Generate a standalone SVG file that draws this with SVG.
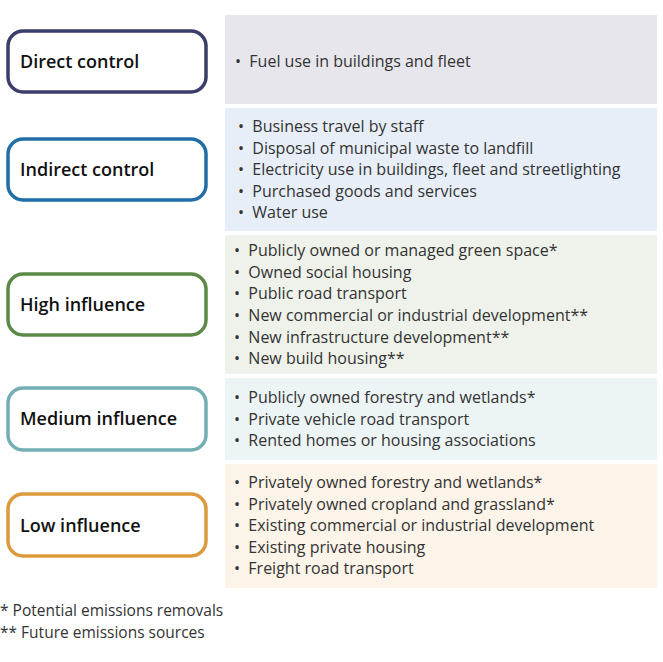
<svg xmlns="http://www.w3.org/2000/svg" width="663" height="662" viewBox="0 0 663 662">
<style>
.box{fill:#fff;stroke-width:3.5}
.lbl{font-family:"Open Sans","Noto Sans",sans-serif;font-size:18px;font-weight:600;fill:#111}
.it{font-family:"Open Sans","Noto Sans",sans-serif;font-size:16px;fill:#333}
.note{font-family:"Open Sans","Noto Sans",sans-serif;font-size:15.5px;fill:#333}
</style>
<rect width="663" height="662" fill="#fff"/>
<g id="direct">
<rect x="225" y="15" width="432" height="89" fill="#e7e6ec"/>
<rect class="box" x="8" y="31" width="198" height="61" rx="15" stroke="#3b3d6b"/>
<text class="lbl" x="20" y="68">Direct control</text>
<text class="it" x="235" y="67">•&#160; Fuel use in buildings and fleet</text>
</g>
<g id="indirect">
<rect x="225" y="108" width="432" height="123" fill="#e7eef7"/>
<rect class="box" x="8" y="139" width="198" height="61" rx="15" stroke="#1f6ea7"/>
<text class="lbl" x="20" y="176">Indirect control</text>
<text class="it" x="238" y="132">•&#160; Business travel by staff</text>
<text class="it" x="238" y="154">•&#160; Disposal of municipal waste to landfill</text>
<text class="it" x="238" y="175">•&#160; Electricity use in buildings, fleet and streetlighting</text>
<text class="it" x="238" y="197">•&#160; Purchased goods and services</text>
<text class="it" x="238" y="218">•&#160; Water use</text>
</g>
<g id="high">
<rect x="225" y="235" width="432" height="139" fill="#eef2ea"/>
<rect class="box" x="8" y="274" width="198" height="61" rx="15" stroke="#5c8a46"/>
<text class="lbl" x="20" y="311">High influence</text>
<text class="it" x="234" y="256">•&#160; Publicly owned or managed green space*</text>
<text class="it" x="234" y="278">•&#160; Owned social housing</text>
<text class="it" x="234" y="299">•&#160; Public road transport</text>
<text class="it" x="234" y="321">•&#160; New commercial or industrial development**</text>
<text class="it" x="234" y="343">•&#160; New infrastructure development**</text>
<text class="it" x="234" y="364">•&#160; New build housing**</text>
</g>
<g id="medium">
<rect x="225" y="378" width="432" height="82" fill="#edf4f5"/>
<rect class="box" x="8" y="388" width="198" height="62" rx="15" stroke="#72aeb3"/>
<text class="lbl" x="20" y="425">Medium influence</text>
<text class="it" x="234" y="403">•&#160; Publicly owned forestry and wetlands*</text>
<text class="it" x="234" y="425">•&#160; Private vehicle road transport</text>
<text class="it" x="234" y="446">•&#160; Rented homes or housing associations</text>
</g>
<g id="low">
<rect x="225" y="464" width="432" height="124" fill="#fcf3e9"/>
<rect class="box" x="8" y="494" width="198" height="62" rx="15" stroke="#dc9a3c"/>
<text class="lbl" x="20" y="532">Low influence</text>
<text class="it" x="234" y="488">•&#160; Privately owned forestry and wetlands*</text>
<text class="it" x="234" y="510">•&#160; Privately owned cropland and grassland*</text>
<text class="it" x="234" y="531">•&#160; Existing commercial or industrial development</text>
<text class="it" x="234" y="553">•&#160; Existing private housing</text>
<text class="it" x="234" y="574">•&#160; Freight road transport</text>
</g>
<g id="connectors"></g>
<text class="note" x="0" y="616">* Potential emissions removals</text>
<text class="note" x="0" y="638">** Future emissions sources</text>
</svg>
